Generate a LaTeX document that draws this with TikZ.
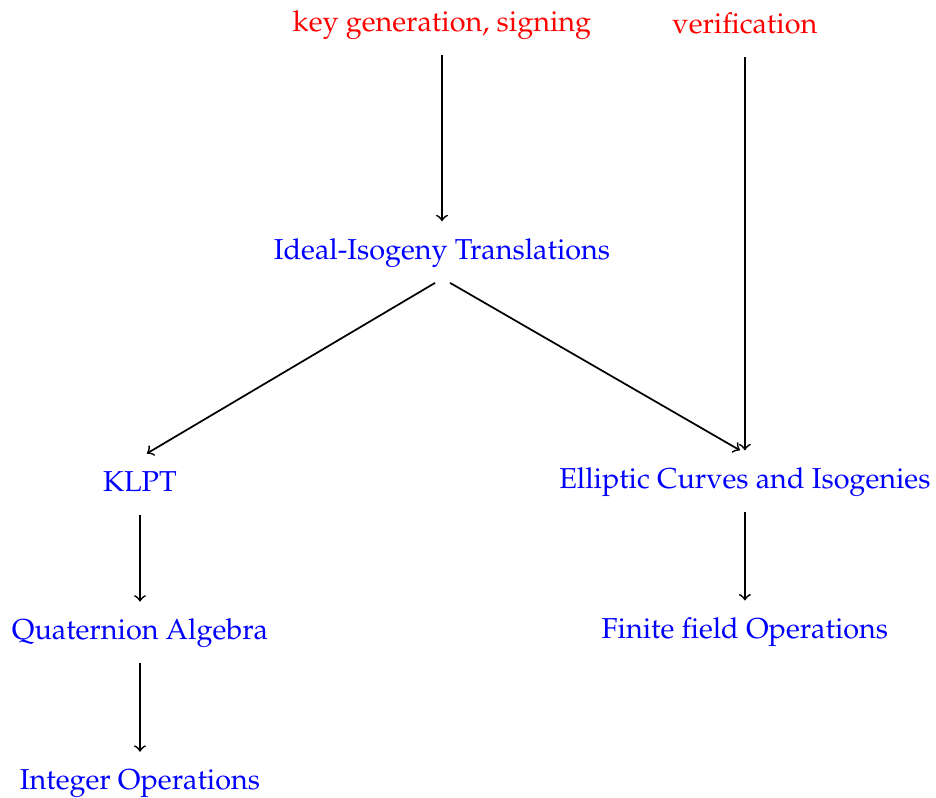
\documentclass[tikz,border=0pt]{standalone}
\usepackage[T1]{fontenc}
\usepackage{mathpazo}
\usepackage{xcolor}
\usepackage{tikz}
\usetikzlibrary{positioning}

\begin{document}
\begin{tikzpicture}[
  x=0.347pt, y=-0.347pt,
  layer/.style={text=blue, text height=7pt, text depth=2pt, inner sep=6pt},
  usage/.style={layer, text=red},
  arr/.style={->, semithick}
]
\useasboundingbox (0,0) rectangle (936,798);
\node[usage] (keygen) at (442,23.8) {key generation, signing};
\node[usage, right=0pt of keygen.center, anchor=center, xshift=105.1pt, yshift=-0.8pt] (verif) {verification};
\node[layer, below=57.8pt of keygen] (ideal) {Ideal-Isogeny Translations};
\node[layer, below=59.2pt of ideal, xshift=-104.8pt] (klpt) {KLPT};
\node[layer, below=58.1pt of ideal, xshift=105.1pt] (ec) {Elliptic Curves and Isogenies};
\node[layer, below=30pt of klpt] (quat) {Quaternion Algebra};
\node[layer, below=30.7pt of ec] (ff) {Finite field Operations};
\node[layer, below=30.7pt of quat] (int) {Integer Operations};

\draw[arr] (keygen) -- (ideal);
\draw[arr] (verif) -- (ec);
\draw[arr] ([xshift=-2.4pt]ideal.south) -- ([xshift=2.4pt]klpt.north);
\draw[arr] ([xshift=2.8pt]ideal.south) -- ([xshift=-1.7pt]ec.north);
\draw[arr] (klpt) -- (quat);
\draw[arr] (ec) -- (ff);
\draw[arr] (quat) -- (int);
\end{tikzpicture}
\end{document}
